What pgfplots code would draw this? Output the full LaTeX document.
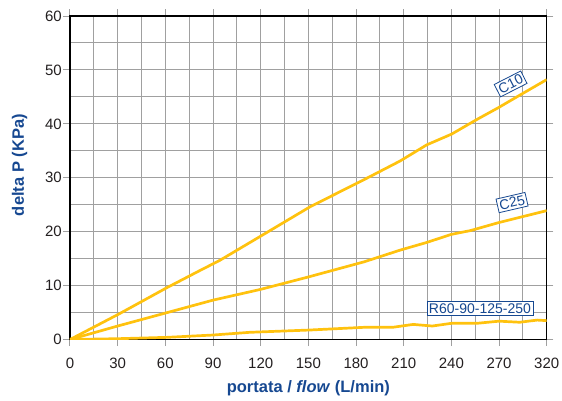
\documentclass[border=0pt]{standalone}
\usepackage{fontspec}
\setmainfont{Liberation Sans}
\usepackage{pgfplots}
\pgfplotsset{compat=1.18}
\definecolor{cy}{RGB}{255,194,14}
\definecolor{lb}{RGB}{22,72,145}
\definecolor{gl}{RGB}{160,160,160}
\definecolor{tk}{RGB}{35,31,32}
\begin{document}
\begin{tikzpicture}
\useasboundingbox (-70pt,-60.5pt) rectangle (492pt,339.5pt);
\begin{axis}[
  scale only axis, width=476.7pt, height=323.5pt,
  xmin=0, xmax=300, ymin=0, ymax=60,
  xtick={0,30,...,300},
  xticklabels={0,30,60,90,120,150,180,210,240,270,320},
  ytick={0,10,...,60},
  minor x tick num=1, minor y tick num=1,
  grid=both,
  major grid style={gl, line width=1pt},
  minor grid style={gl, line width=1pt},
  tick align=outside, major tick length=6.7pt, minor tick length=0pt,
  tick style={gl, line width=1pt},
  axis line style={black, line width=1.3pt},
  /pgf/number format/assume math mode=true,
  ticklabel style={font=\fontsize{15}{18}\selectfont, text=tk, inner sep=0pt},
  xticklabel style={anchor=base, yshift=-22.1pt},
  yticklabel style={anchor=east, xshift=-1.3pt},
  xlabel={portata / \textit{flow} (L/min)},
  ylabel={delta P (KPa)},
  xlabel style={at={(axis description cs:0.5,-0.1623)}, anchor=base, inner sep=0pt,
    font=\fontsize{16.5}{20}\selectfont\bfseries, text=lb},
  ylabel style={at={(axis description cs:-0.1059,0.539)}, anchor=center, inner sep=0pt,
    font=\fontsize{16.5}{20}\selectfont\bfseries, text=lb},
]
% C10
\addplot[cy, line width=2.7pt, line join=round] coordinates {
(0,0) (30.6,4.7) (60.9,9.6) (81.8,12.8) (94.4,14.7) (119.6,19.1) (151,24.6)
(186.7,29.9) (207.7,33.1) (224.5,36.1) (240.2,38.1) (256,40.8) (269.6,43.0)
(285.3,45.7) (300,48.2)};
% C25
\addplot[cy, line width=2.7pt, line join=round] coordinates {
(0,0) (30,2.5) (60,4.9) (90,7.3) (120,9.3) (150,11.6) (185,14.4) (208,16.6)
(224.5,18.0) (240,19.5) (252,20.2) (270,21.7) (300,23.9)};
% R60-90-125-250
\addplot[cy, line width=2.7pt, line join=round] coordinates {
(0,0) (30,0.15) (61,0.4) (90,0.83) (113,1.33) (151,1.76) (185,2.26) (203,2.26)
(216,2.8) (228,2.5) (240,3.0) (256,3.0) (270,3.4) (283,3.2) (294,3.6) (300,3.5)};
\node[draw=lb, fill=white, text=lb, rotate=27, inner sep=2pt, line width=0.8pt,
  font=\fontsize{14}{16}\selectfont] at (axis cs:277.3,47.4) {C10};
\node[draw=lb, fill=white, text=lb, rotate=13, inner sep=2pt, line width=0.8pt,
  font=\fontsize{14}{16}\selectfont] at (axis cs:278.2,25.4) {C25};
\node[draw=lb, fill=white, text=lb, inner sep=2pt, line width=0.8pt,
  font=\fontsize{14}{16}\selectfont] at (axis cs:258,5.8) {R60-90-125-250};
\end{axis}
\end{tikzpicture}
\end{document}
